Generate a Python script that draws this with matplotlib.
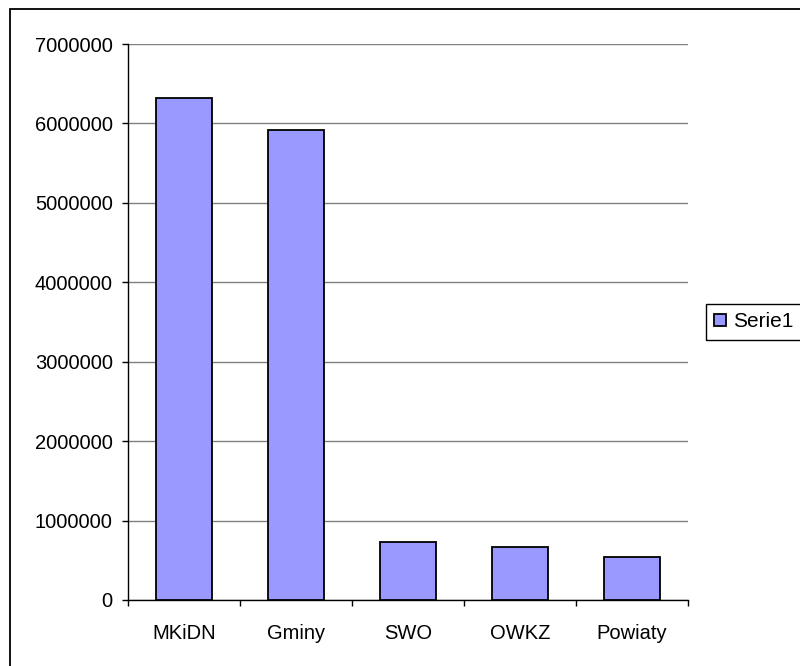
import matplotlib.pyplot as plt
import matplotlib.patches as patches
import numpy as np

categories = ["MKiDN", "Gminy", "SWO", "OWKZ", "Powiaty"]
values = [6320000, 5920000, 728000, 665000, 537000]
series_name = "Serie1"
y_ticks = [0, 1000000, 2000000, 3000000, 4000000, 5000000, 6000000, 7000000]

plt.rcParams['font.family'] = ['Liberation Sans', 'DejaVu Sans']

fig = plt.figure(figsize=(8, 6.66), dpi=100)
ax = fig.add_axes([0.16, 0.0991, 0.70, 0.8348])

x = np.arange(len(categories))
ax.bar(x, values, width=0.5, color="#9999FF", edgecolor="black", linewidth=1.3,
       label=series_name, zorder=3)

ax.set_xlim(-0.5, len(categories) - 0.5)
ax.set_ylim(0, 7000000)
ax.set_yticks(y_ticks)
ax.set_yticklabels([str(v) for v in y_ticks])
ax.set_xticks(x)
ax.set_xticklabels(categories)
ax.set_xticks(np.arange(len(categories) + 1) - 0.5, minor=True)

ax.tick_params(axis='y', direction='out', length=4, width=1, pad=7, labelsize=14.5)
ax.tick_params(axis='x', which='major', length=0, pad=17, labelsize=14.5)
ax.tick_params(axis='x', which='minor', direction='out', length=4, width=1)

ax.grid(axis='y', color='#808080', linewidth=1, zorder=0)
for s in ['top', 'right']:
    ax.spines[s].set_visible(False)
ax.spines['left'].set_linewidth(1)
ax.spines['bottom'].set_linewidth(1)

# outer chart frame (runs past the right and bottom edges)
frame = patches.Rectangle((0.0125, -0.1), 1.2, 1.0865, transform=fig.transFigure,
                          fill=False, edgecolor='black', linewidth=1.3)
fig.patches.append(frame)

# legend box, also cut by the right edge
legbox = patches.Rectangle((0.8825, 0.4895), 0.2, 0.054, transform=fig.transFigure,
                           fill=False, edgecolor='black', linewidth=1)
fig.patches.append(legbox)

leg = fig.legend(loc='upper left', bbox_to_anchor=(0.8825, 0.5435), fontsize=15,
                 frameon=False, handlelength=0.55, handleheight=0.55,
                 handletextpad=0.35, borderpad=0.4, borderaxespad=0)

fig.savefig("out.png", dpi=100)
